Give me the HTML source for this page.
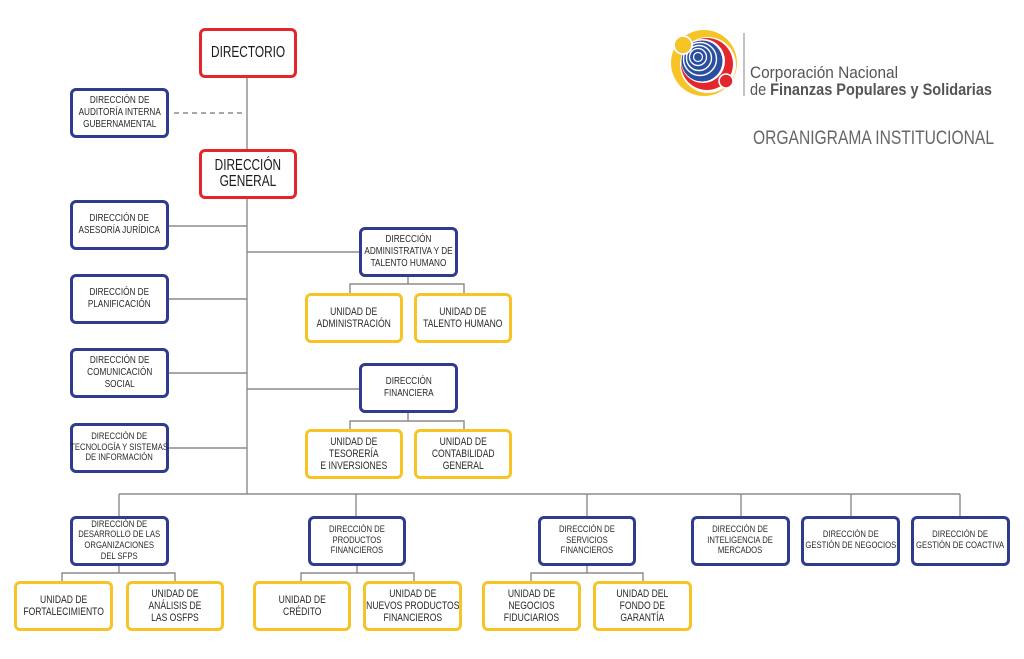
<!DOCTYPE html>
<html><head><meta charset="utf-8">
<style>
html,body{margin:0;padding:0;background:#fff;}
body{width:1024px;height:659px;position:relative;overflow:hidden;font-family:"Liberation Sans",sans-serif;}
.b{position:absolute;box-sizing:border-box;border:3px solid #2e3b8e;border-radius:6px;background:#fff;display:flex;align-items:center;justify-content:center;}
.b span{display:block;white-space:nowrap;text-align:center;color:#2a2a2a;font-size:10.5px;line-height:11.8px;transform:scaleX(0.78);}
.b span.s{font-size:9.6px;line-height:10.6px;transform:scaleX(0.8);}
.r{border-color:#e3262b;}
.r span{font-size:16px;line-height:16px;color:#1a1a1a;transform:scaleX(0.74);}
.y{border-color:#f6c427;}
.y span{font-size:11px;line-height:12px;}
svg{position:absolute;left:0;top:0;}
</style></head><body>
<svg width="1024" height="659" viewBox="0 0 1024 659">
<g stroke="#8c8c8c" stroke-width="1.4" fill="none">
<line x1="247" y1="78" x2="247" y2="494"/>
<line x1="174" y1="113" x2="244" y2="113" stroke-dasharray="5 4"/>
<line x1="169" y1="226" x2="247" y2="226"/>
<line x1="169" y1="299" x2="247" y2="299"/>
<line x1="169" y1="373" x2="247" y2="373"/>
<line x1="169" y1="448" x2="247" y2="448"/>
<line x1="247" y1="252" x2="359" y2="252"/>
<line x1="247" y1="389" x2="359" y2="389"/>
<path d="M408 277V284M350 293V284H464V293"/>
<path d="M408 413V421M350 429V421H464V429"/>
<line x1="119" y1="494" x2="960" y2="494"/>
<path d="M119 494V516M356 494V516M587 494V516M741 494V516M851 494V516M960 494V516"/>
<path d="M119 566V573M62 581V573H175V581"/>
<path d="M357 566V573M301 581V573H414V581"/>
<path d="M587 566V573M531 581V573H643V581"/>
</g>
<!-- logo -->
<g>
<circle cx="704" cy="63" r="33" fill="#f6c427"/>
<circle cx="708" cy="65" r="28" fill="#fff"/>
<circle cx="707" cy="64" r="26" fill="#e3262b"/>
<circle cx="703" cy="61" r="22" fill="#fff"/>
<circle cx="702" cy="61" r="20.5" fill="#2b4fa0"/>
<circle cx="700" cy="59" r="16.5" fill="none" stroke="#fff" stroke-width="1.4"/>
<circle cx="699" cy="58" r="12.5" fill="none" stroke="#fff" stroke-width="1.4"/>
<circle cx="698" cy="57" r="8.5" fill="none" stroke="#fff" stroke-width="1.3"/>
<circle cx="698" cy="57" r="4.5" fill="none" stroke="#fff" stroke-width="1.2"/>
<circle cx="683" cy="45" r="9" fill="#f6c427" stroke="#fff" stroke-width="1.8"/>
<circle cx="726" cy="81" r="7" fill="#e3262b" stroke="#fff" stroke-width="1.6"/>
</g>
<line x1="744" y1="33" x2="744" y2="96" stroke="#9a9a9a" stroke-width="1.2"/>
<text x="750" y="78" font-family="Liberation Sans, sans-serif" font-size="16.5" fill="#555" textLength="148" lengthAdjust="spacingAndGlyphs">Corporación Nacional</text>
<text x="750" y="95" font-family="Liberation Sans, sans-serif" font-size="16.5" fill="#555" textLength="242" lengthAdjust="spacingAndGlyphs">de <tspan font-weight="bold">Finanzas Populares y Solidarias</tspan></text>
<text x="753" y="144" font-family="Liberation Sans, sans-serif" font-size="19" fill="#666" textLength="241" lengthAdjust="spacingAndGlyphs">ORGANIGRAMA INSTITUCIONAL</text>
</svg>

<div class="b r" style="left:199px;top:28px;width:98px;height:50px;"><span>DIRECTORIO</span></div>
<div class="b r" style="left:199px;top:149px;width:98px;height:50px;"><span>DIRECCIÓN<br>GENERAL</span></div>
<div class="b" style="left:70px;top:88px;width:99px;height:50px;"><span>DIRECCIÓN DE<br>AUDITORÍA INTERNA<br>GUBERNAMENTAL</span></div>
<div class="b" style="left:70px;top:200px;width:99px;height:50px;"><span>DIRECCIÓN DE<br>ASESORÍA JURÍDICA</span></div>
<div class="b" style="left:70px;top:274px;width:99px;height:50px;"><span>DIRECCIÓN DE<br>PLANIFICACIÓN</span></div>
<div class="b" style="left:70px;top:348px;width:99px;height:50px;"><span>DIRECCIÓN DE<br>COMUNICACIÓN<br>SOCIAL</span></div>
<div class="b" style="left:70px;top:423px;width:99px;height:50px;"><span class="s">DIRECCIÓN DE<br>TECNOLOGÍA Y SISTEMAS<br>DE INFORMACIÓN</span></div>

<div class="b" style="left:359px;top:227px;width:99px;height:50px;"><span>DIRECCIÓN<br>ADMINISTRATIVA Y DE<br>TALENTO HUMANO</span></div>
<div class="b y" style="left:305px;top:293px;width:98px;height:50px;"><span>UNIDAD DE<br>ADMINISTRACIÓN</span></div>
<div class="b y" style="left:414px;top:293px;width:98px;height:50px;"><span>UNIDAD DE<br>TALENTO HUMANO</span></div>

<div class="b" style="left:359px;top:363px;width:99px;height:50px;"><span>DIRECCIÓN<br>FINANCIERA</span></div>
<div class="b y" style="left:305px;top:429px;width:98px;height:50px;"><span>UNIDAD DE<br>TESORERÍA<br>E INVERSIONES</span></div>
<div class="b y" style="left:414px;top:429px;width:98px;height:50px;"><span>UNIDAD DE<br>CONTABILIDAD<br>GENERAL</span></div>

<div class="b" style="left:70px;top:516px;width:99px;height:50px;"><span class="s">DIRECCIÓN DE<br>DESARROLLO DE LAS<br>ORGANIZACIONES<br>DEL SFPS</span></div>
<div class="b y" style="left:14px;top:581px;width:99px;height:50px;"><span>UNIDAD DE<br>FORTALECIMIENTO</span></div>
<div class="b y" style="left:126px;top:581px;width:98px;height:50px;"><span>UNIDAD DE<br>ANÁLISIS DE<br>LAS OSFPS</span></div>

<div class="b" style="left:308px;top:516px;width:98px;height:50px;"><span class="s">DIRECCIÓN DE<br>PRODUCTOS<br>FINANCIEROS</span></div>
<div class="b y" style="left:253px;top:581px;width:98px;height:50px;"><span>UNIDAD DE<br>CRÉDITO</span></div>
<div class="b y" style="left:363px;top:581px;width:99px;height:50px;"><span>UNIDAD DE<br>NUEVOS PRODUCTOS<br>FINANCIEROS</span></div>

<div class="b" style="left:538px;top:516px;width:98px;height:50px;"><span class="s">DIRECCIÓN DE<br>SERVICIOS<br>FINANCIEROS</span></div>
<div class="b y" style="left:482px;top:581px;width:99px;height:50px;"><span>UNIDAD DE<br>NEGOCIOS<br>FIDUCIARIOS</span></div>
<div class="b y" style="left:593px;top:581px;width:99px;height:50px;"><span>UNIDAD DEL<br>FONDO DE<br>GARANTÍA</span></div>

<div class="b" style="left:691px;top:516px;width:99px;height:50px;"><span class="s">DIRECCIÓN DE<br>INTELIGENCIA DE<br>MERCADOS</span></div>
<div class="b" style="left:801px;top:516px;width:99px;height:50px;"><span class="s">DIRECCIÓN DE<br>GESTIÓN DE NEGOCIOS</span></div>
<div class="b" style="left:911px;top:516px;width:99px;height:50px;"><span class="s">DIRECCIÓN DE<br>GESTIÓN DE COACTIVA</span></div>
</body></html>
